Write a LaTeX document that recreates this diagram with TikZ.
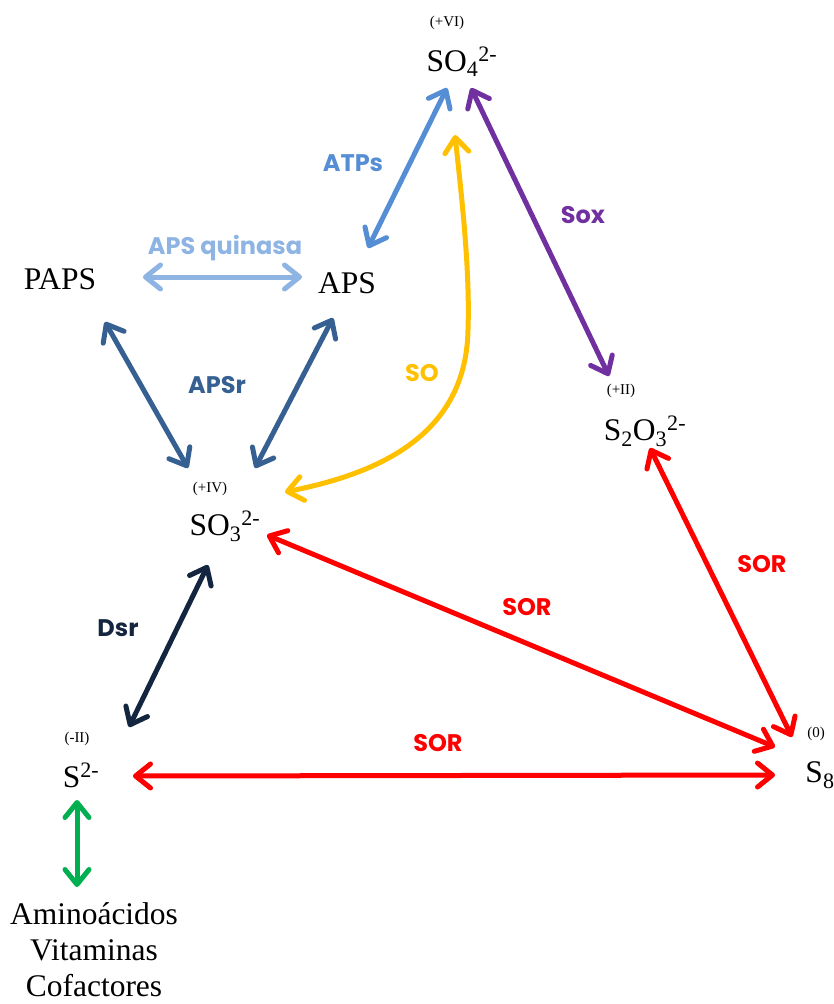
\documentclass[tikz,border=0pt]{standalone}
\usepackage{fontspec}
\setmainfont{Liberation Serif}
\newfontfamily\enzfont{Poppins}
\usetikzlibrary{arrows.meta,calc}
\definecolor{atpblue}{HTML}{558ED5}
\definecolor{quinblue}{HTML}{8EB4E3}
\definecolor{apsrblue}{HTML}{376092}
\definecolor{dsrnavy}{HTML}{14263F}
\definecolor{soxpurple}{HTML}{7030A0}
\definecolor{soyellow}{HTML}{FFC000}
\definecolor{sorred}{HTML}{FF0000}
\definecolor{biogreen}{HTML}{00B050}
\begin{document}
\begin{tikzpicture}[
        x=1pt, y=-1pt,
        line width=5pt,
        especie/.style = {anchor=base, inner sep=0pt, font=\fontsize{31.5}{36}\selectfont},
        estado/.style = {anchor=base, inner sep=0pt, font=\fontsize{15}{18}\selectfont},
        enzima/.style = {inner sep=0pt, font=\enzfont\bfseries\fontsize{24}{28}\selectfont},
        flecha/.style = {{Straight Barb[length=15pt,width=24pt,round]}-{Straight Barb[length=15pt,width=24pt,round]}, line cap=round},
    ]
    \fill[white] (0,0) rectangle (834,1004);
    \useasboundingbox (0,0) rectangle (834,1004);
    % especies de azufre
    \node[especie] at (462,71) (sulfato) {SO\textsubscript{4}\textsuperscript{2-}};
    \node[especie] at (347,293) (aps) {APS};
    \node[especie] at (60,289) (paps) {PAPS};
    \node[especie] at (225,535) (sulfito) {SO\textsubscript{3}\textsuperscript{2-}};
    \node[especie] at (645,440) (tiosulfato) {S\textsubscript{2}O\textsubscript{3}\textsuperscript{2-}};
    \node[especie] at (820,782) (azufre) {S\textsubscript{8}};
    \node[especie] at (81,787) (sulfuro) {S\textsuperscript{2-}};
    \node[especie, anchor=north, align=center] at (94,900) (bio) {Aminoácidos\\Vitaminas\\Cofactores};
    % estados de oxidacion
    \node[estado] at (447,26) (vi) {(+VI)};
    \node[estado] at (210,492) (iv) {(+IV)};
    \node[estado] at (621,394) (ii) {(+II)};
    \node[estado] at (816,737) (cero) {(0)};
    \node[estado] at (77,742) (menosii) {(-II)};
    % enzimas
    \node[enzima, text=atpblue] at (353,163) (atps) {ATPs};
    \node[enzima, text=soxpurple] at (583,215) (sox) {Sox};
    \node[enzima, text=quinblue] at (225,248) (quinasa) {APS quinasa};
    \node[enzima, text=apsrblue] at (217,385) (apsr) {APSr};
    \node[enzima, text=soyellow] at (422,373) (so) {SO};
    \node[enzima, text=dsrnavy] at (118,628) (dsr) {Dsr};
    \node[enzima, text=sorred] at (527,607) (sora) {SOR};
    \node[enzima, text=sorred] at (762,564) (sorb) {SOR};
    \node[enzima, text=sorred] at (438,743) (sorc) {SOR};
    % flechas
    \draw[flecha, atpblue] ($(sulfato.base)+(-15,17)$) -- ($(aps.base)+(21,-45)$);
    \draw[flecha, soxpurple] ($(sulfato.base)+(9,17)$) -- ($(tiosulfato.base)+(-36,-64)$);
    \draw[flecha, soyellow] ($(sulfito.base)+(60,-43)$) .. controls (370,475) and (466,440) .. (468,330)
        .. controls (470,270) and (462,200) .. ($(sulfato.base)+(-7,64)$);
    \draw[flecha, quinblue] ($(paps.base)+(83,-12)$) -- ($(aps.base)+(-45,-16)$);
    \draw[flecha, apsrblue] ($(paps.base)+(45,33)$) -- ($(sulfito.base)+(-37,-67)$);
    \draw[flecha, apsrblue] ($(aps.base)+(-14,25)$) -- ($(sulfito.base)+(30,-67)$);
    \draw[flecha, dsrnavy] ($(sulfito.base)+(-17,30)$) -- ($(sulfuro.base)+(48,-60)$);
    \draw[flecha, sorred] ($(sulfito.base)+(42,0)$) -- ($(azufre.base)+(-45,-35)$);
    \draw[flecha, sorred] ($(tiosulfato.base)+(5,8)$) -- ($(azufre.base)+(-28,-45)$);
    \draw[flecha, sorred] ($(sulfuro.base)+(52,-11)$) -- ($(azufre.base)+(-45,-7)$);
    \draw[flecha, biogreen] ($(sulfuro.base)+(-4,13)$) -- ($(bio.north)+(-17,-13)$);
\end{tikzpicture}
\end{document}
